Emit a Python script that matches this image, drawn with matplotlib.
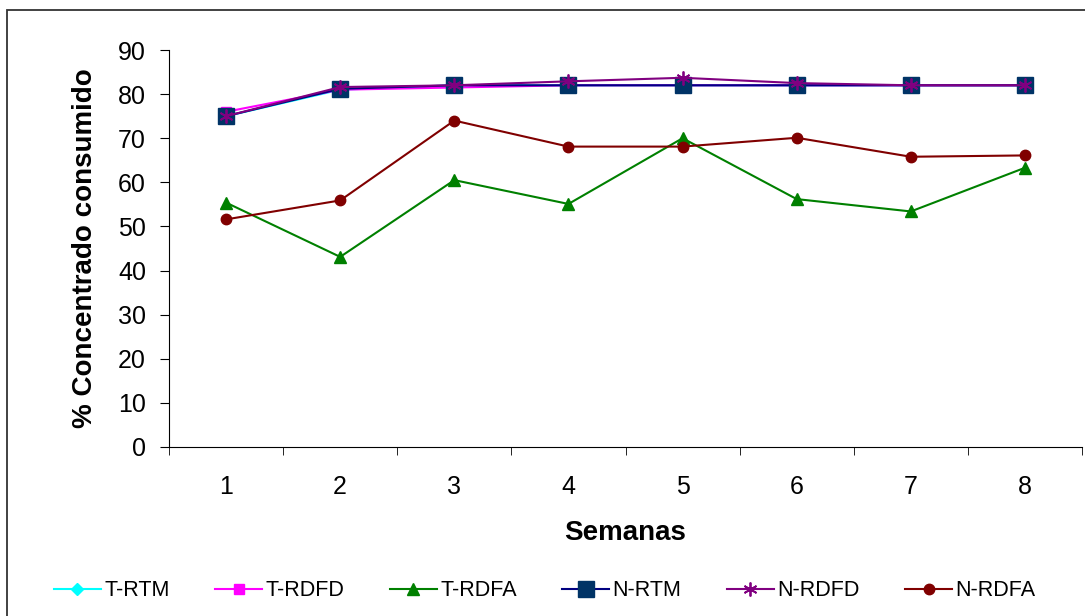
import numpy as np
import matplotlib.pyplot as plt
from matplotlib.patches import Rectangle

plt.rcParams['font.family'] = ['Liberation Sans', 'DejaVu Sans']

semanas = [1, 2, 3, 4, 5, 6, 7, 8]

t_rtm = [75.0, 81.0, 82.0, 82.0, 82.0, 82.0, 82.0, 82.0]
t_rdfd = [76.0, 81.0, 81.5, 82.0, 82.0, 82.0, 82.0, 82.0]
t_rdfa = [55.4, 43.1, 60.5, 55.1, 70.0, 56.2, 53.4, 63.3]
n_rtm = [75.0, 81.2, 82.0, 82.0, 82.0, 82.0, 82.0, 82.0]
n_rdfd = [75.0, 81.6, 82.0, 82.9, 83.7, 82.5, 82.0, 82.0]
n_rdfa = [51.6, 55.9, 74.0, 68.1, 68.1, 70.1, 65.8, 66.1]

fig = plt.figure(figsize=(10.85, 6.16), dpi=100)
ax = fig.add_axes([169 / 1085, 1 - 447 / 616, 913 / 1085, 397 / 616])

# border around the whole picture
fig.patches.append(Rectangle((7 / 1085, -0.1), 1.2, 1 - 10 / 616 + 0.1,
                             transform=fig.transFigure, fill=False,
                             edgecolor='#333333', linewidth=1.3))

ax.plot(semanas, t_rtm, color='#00FFFF', marker='D', markersize=6, lw=1.5, label='T-RTM')
ax.plot(semanas, t_rdfd, color='#FF00FF', marker='s', markersize=7, lw=1.5, label='T-RDFD')
ax.plot(semanas, t_rdfa, color='#008000', marker='^', markersize=9, lw=1.5, label='T-RDFA')
ax.plot(semanas, n_rtm, color='#000080', marker='s', markersize=11.5,
        markerfacecolor='#003366', markeredgecolor='#003366', lw=1.5, label='N-RTM')
ax.plot(semanas, n_rdfd, color='#800080', marker=(6, 2, 0), markersize=10,
        markeredgewidth=1.3, lw=1.5, label='N-RDFD')
ax.plot(semanas, n_rdfa, color='#800000', marker='o', markersize=7.5, lw=1.5, label='N-RDFA')

ax.set_xlim(0.5, 8.5)
ax.set_ylim(0, 90)
ax.set_yticks(np.arange(0, 91, 10))
ax.set_xticks(semanas)
ax.set_xticks(np.arange(0.5, 8.6, 1), minor=True)
ax.tick_params(axis='x', which='major', length=0, pad=20, labelsize=18)
ax.tick_params(axis='x', which='minor', length=6, direction='out')
ax.tick_params(axis='y', length=6.5, direction='out', pad=10, labelsize=18)

for s in ['top', 'right']:
    ax.spines[s].set_visible(False)

ax.set_xlabel('Semanas', fontsize=20, fontweight='bold', va='center')
ax.xaxis.set_label_coords(0.5, (447 - 533) / 397)
ax.set_ylabel('% Concentrado consumido', fontsize=20, fontweight='bold', va='center')
ax.yaxis.set_label_coords((85 - 169) / 913, 0.5)

fig.legend(loc='center', bbox_to_anchor=(0.502, 1 - 591 / 616), ncol=6, frameon=False,
           fontsize=15.5, handlelength=2.2, handletextpad=0.15, columnspacing=2.1)

fig.savefig('out.png', dpi=100)
